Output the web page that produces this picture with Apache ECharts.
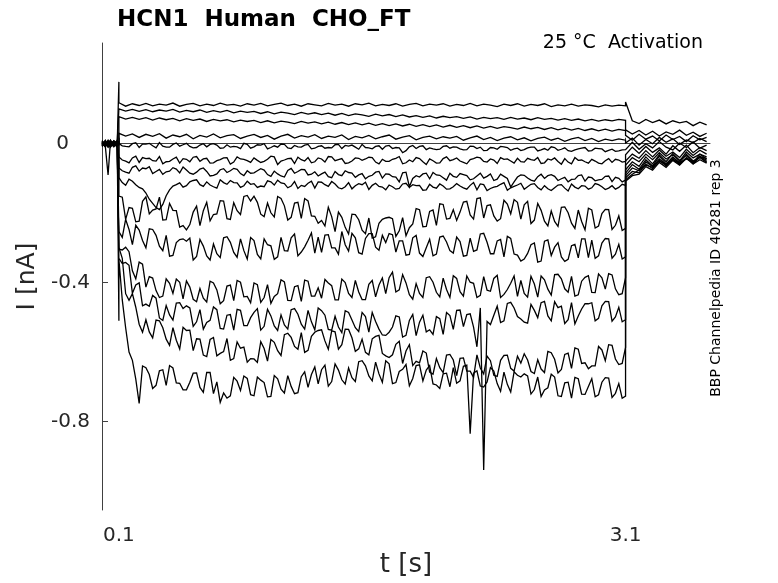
<!DOCTYPE html>
<html>
<head>
<meta charset="utf-8">
<script src="https://cdn.jsdelivr.net/npm/echarts@6/dist/echarts.min.js"></script>
<style>
  html, body { margin: 0; padding: 0; background: #fff; }
  #chart { width: 778px; height: 583px; }
</style>
</head>
<body>
<div id="chart"></div>
<script>
// time bases (s)
var tPre = [0, 0.02, 0.036, 0.05, 0.07, 0.09, 0.1];
var tStep = [0.1,0.14,0.18,0.22,0.26,0.3,0.34,0.38,0.42,0.46,
  0.5,0.54,0.58,0.62,0.66,0.7,0.74,0.78,0.82,0.86,
  0.9,0.94,0.98,1.02,1.06,1.1,1.14,1.18,1.22,1.26,
  1.3,1.34,1.38,1.42,1.46,1.5,1.54,1.58,1.62,1.66,
  1.7,1.74,1.78,1.82,1.86,1.9,1.94,1.98,2.02,2.06,
  2.1,2.14,2.18,2.22,2.26,2.3,2.34,2.38,2.42,2.46,
  2.5,2.54,2.58,2.62,2.66,2.7,2.74,2.78,2.82,2.86,
  2.9,2.94,2.98,3.02,3.06,3.1];
// in-between samples, used by the noisier sweeps
var tMid = [0.12,0.16,0.2,0.24,0.28,0.32,0.36,0.4,0.44,0.48,
  0.52,0.56,0.6,0.64,0.68,0.72,0.76,0.8,0.84,0.88,
  0.92,0.96,1,1.04,1.08,1.12,1.16,1.2,1.24,1.28,
  1.32,1.36,1.4,1.44,1.48,1.52,1.56,1.6,1.64,1.68,
  1.72,1.76,1.8,1.84,1.88,1.92,1.96,2,2.04,2.08,
  2.12,2.16,2.2,2.24,2.28,2.32,2.36,2.4,2.44,2.48,
  2.52,2.56,2.6,2.64,2.68,2.72,2.76,2.8,2.84,2.88,
  2.92,2.96,3,3.04,3.08];
var tTail = [3.1,3.14,3.18,3.22,3.26,3.3,3.34,3.38,3.42,3.46,3.5,3.54,3.58];

// tick labels
var xTicks = [0.1, 3.1];
var yTicks = [-0.8, -0.4, 0];

// currents (nA), holding part
var pre01 = [0.004,-0.006,0.008,-0.003,0.006,-0.004,0.178];
var pre02 = [-0.005,0.007,-0.002,0.009,-0.006,0.003,0.002];
var pre03 = [0.006,-0.004,0.010,-0.007,0.002,-0.008,0.001];
var pre04 = [-0.008,0.003,-0.010,0.005,-0.003,0.008,0.000];
var pre05 = [0.002,-0.009,-0.090,0.006,-0.005,0.004,0.003];
var pre06 = [-0.003,0.010,-0.006,-0.009,0.007,-0.002,-0.001];
var pre07 = [0.009,-0.002,0.005,-0.010,0.003,0.006,0.002];
var pre08 = [-0.007,0.004,-0.009,0.002,-0.008,0.010,-0.002];
var pre09 = [0.005,-0.008,0.003,0.008,-0.004,-0.007,0.001];
var pre10 = [-0.002,0.006,-0.005,-0.006,0.009,0.002,-0.003];
var pre11 = [0.008,-0.005,0.007,0.001,-0.009,0.005,0.000];
var pre12 = [-0.006,0.002,-0.008,0.007,0.004,-0.006,-0.002];
var pre13 = [0.003,-0.010,0.004,-0.004,0.008,-0.003,0.001];
var pre14 = [-0.004,0.008,-0.003,0.010,-0.007,0.007,-0.510];

// currents during the test pulse
var step01 = [0.118,0.108,0.115,0.110,0.116,0.109,0.114,0.111,0.117,0.108,
  0.113,0.116,0.109,0.114,0.110,0.117,0.111,0.113,0.108,0.115,
  0.111,0.116,0.109,0.113,0.117,0.110,0.114,0.108,0.115,0.112,
  0.109,0.116,0.111,0.114,0.108,0.115,0.112,0.117,0.109,0.113,
  0.110,0.115,0.108,0.113,0.116,0.109,0.114,0.111,0.115,0.108,
  0.113,0.110,0.116,0.109,0.114,0.111,0.107,0.114,0.110,0.115,
  0.108,0.113,0.110,0.115,0.107,0.112,0.109,0.114,0.108,0.112,
  0.110,0.106,0.112,0.108,0.111,0.109];
var step02 = [0.100,0.094,0.099,0.093,0.098,0.092,0.097,0.094,0.099,0.091,
  0.096,0.092,0.097,0.090,0.095,0.091,0.096,0.089,0.094,0.090,
  0.093,0.087,0.092,0.086,0.091,0.088,0.084,0.090,0.085,0.089,
  0.084,0.088,0.082,0.087,0.081,0.086,0.083,0.079,0.085,0.080,
  0.084,0.078,0.083,0.077,0.081,0.076,0.080,0.074,0.079,0.075,
  0.078,0.073,0.077,0.071,0.076,0.072,0.075,0.070,0.076,0.071,
  0.074,0.069,0.075,0.070,0.073,0.068,0.072,0.067,0.071,0.066,
  0.070,0.065,0.069,0.066,0.070,0.067];
var step03 = [0.078,0.071,0.076,0.070,0.075,0.068,0.074,0.069,0.073,0.066,
  0.072,0.067,0.071,0.064,0.070,0.066,0.069,0.063,0.068,0.064,
  0.067,0.061,0.066,0.060,0.065,0.062,0.058,0.064,0.059,0.063,
  0.057,0.062,0.056,0.061,0.055,0.060,0.054,0.059,0.053,0.058,
  0.052,0.057,0.051,0.056,0.050,0.055,0.049,0.054,0.048,0.053,
  0.047,0.052,0.046,0.051,0.045,0.050,0.044,0.049,0.046,0.042,
  0.048,0.043,0.047,0.041,0.046,0.040,0.045,0.039,0.044,0.038,
  0.043,0.037,0.042,0.036,0.041,0.038];
var step04 = [0.030,0.022,0.028,0.018,0.027,0.021,0.029,0.016,0.025,0.020,
  0.027,0.014,0.024,0.019,0.028,0.017,0.023,0.026,0.015,0.022,
  0.027,0.018,0.024,0.013,0.022,0.027,0.016,0.023,0.019,0.026,
  0.015,0.022,0.018,0.025,0.012,0.021,0.017,0.024,0.014,0.020,
  0.025,0.013,0.019,0.023,0.011,0.018,0.022,0.014,0.020,0.016,
  0.021,0.010,0.017,0.022,0.012,0.018,0.009,0.016,0.020,0.011,
  0.017,0.008,0.015,0.019,0.010,0.016,0.007,0.014,0.018,0.009,
  0.015,0.006,0.013,0.009,0.014,0.010];
var step05 = [0.002,-0.008,0.000,-0.011,-0.001,-0.006,0.003,-0.010,-0.002,-0.007,
  0.001,-0.012,-0.004,-0.009,0.000,-0.013,-0.003,-0.008,-0.014,-0.002,
  -0.009,-0.004,-0.015,-0.006,-0.001,-0.012,-0.005,-0.010,-0.002,-0.013,
  -0.006,-0.011,-0.003,-0.014,-0.007,-0.010,-0.002,-0.012,-0.008,-0.016,
  -0.005,-0.011,-0.026,-0.009,-0.014,-0.006,-0.012,-0.017,-0.008,-0.013,
  -0.010,-0.018,-0.007,-0.014,-0.020,-0.011,-0.016,-0.009,-0.019,-0.013,
  -0.017,-0.010,-0.021,-0.014,-0.009,-0.019,-0.012,-0.022,-0.015,-0.011,
  -0.020,-0.014,-0.023,-0.016,-0.021,-0.017];
var step06 = [-0.038,-0.050,-0.041,-0.054,-0.043,-0.049,-0.037,-0.052,-0.044,-0.056,
  -0.045,-0.039,-0.051,-0.042,-0.055,-0.046,-0.040,-0.053,-0.044,-0.049,
  -0.041,-0.054,-0.045,-0.038,-0.050,-0.043,-0.057,-0.046,-0.040,-0.052,
  -0.044,-0.037,-0.049,-0.043,-0.055,-0.041,-0.048,-0.039,-0.053,-0.045,
  -0.051,-0.042,-0.058,-0.047,-0.040,-0.052,-0.044,-0.056,-0.043,-0.049,
  -0.041,-0.054,-0.046,-0.039,-0.051,-0.044,-0.057,-0.045,-0.050,-0.042,
  -0.053,-0.046,-0.040,-0.055,-0.047,-0.051,-0.043,-0.058,-0.048,-0.052,
  -0.045,-0.056,-0.049,-0.054,-0.047,-0.051];
var step07 = [-0.070,-0.082,-0.068,-0.079,-0.072,-0.086,-0.074,-0.081,-0.069,-0.084,
  -0.076,-0.088,-0.073,-0.080,-0.091,-0.075,-0.083,-0.071,-0.086,-0.078,
  -0.084,-0.072,-0.089,-0.079,-0.093,-0.077,-0.085,-0.074,-0.090,-0.081,
  -0.087,-0.095,-0.080,-0.092,-0.083,-0.097,-0.086,-0.094,-0.082,-0.099,
  -0.088,-0.096,-0.084,-0.124,-0.092,-0.087,-0.101,-0.090,-0.098,-0.085,
  -0.097,-0.089,-0.104,-0.093,-0.099,-0.087,-0.102,-0.094,-0.125,-0.096,
  -0.091,-0.105,-0.095,-0.100,-0.089,-0.106,-0.097,-0.103,-0.092,-0.108,
  -0.098,-0.104,-0.094,-0.109,-0.100,-0.105];
var step08 = [-0.098,-0.120,-0.108,-0.126,-0.142,-0.172,-0.190,-0.150,-0.122,-0.113,
  -0.121,-0.106,-0.118,-0.110,-0.124,-0.104,-0.117,-0.112,-0.126,-0.108,
  -0.115,-0.122,-0.107,-0.119,-0.113,-0.127,-0.109,-0.120,-0.114,-0.128,
  -0.111,-0.123,-0.116,-0.130,-0.112,-0.121,-0.118,-0.132,-0.114,-0.125,
  -0.119,-0.131,-0.116,-0.126,-0.121,-0.134,-0.117,-0.128,-0.122,-0.130,
  -0.115,-0.127,-0.120,-0.133,-0.118,-0.129,-0.123,-0.112,-0.127,-0.119,
  -0.131,-0.117,-0.126,-0.121,-0.135,-0.119,-0.128,-0.116,-0.130,-0.122,
  -0.127,-0.118,-0.132,-0.121,-0.126,-0.120];
var step09 = [-0.151,-0.218,-0.186,-0.223,-0.153,-0.191,-0.154,-0.219,-0.192,-0.240,
  -0.248,-0.197,-0.236,-0.169,-0.204,-0.164,-0.216,-0.170,-0.204,-0.149,
  -0.151,-0.203,-0.171,-0.211,-0.158,-0.220,-0.171,-0.215,-0.165,-0.209,
  -0.221,-0.183,-0.253,-0.212,-0.260,-0.204,-0.249,-0.214,-0.268,-0.218,
  -0.212,-0.267,-0.213,-0.242,-0.187,-0.239,-0.195,-0.235,-0.175,-0.215,
  -0.221,-0.168,-0.205,-0.158,-0.214,-0.176,-0.223,-0.163,-0.202,-0.169,
  -0.176,-0.230,-0.172,-0.223,-0.194,-0.238,-0.182,-0.229,-0.191,-0.248,
  -0.191,-0.237,-0.189,-0.247,-0.208,-0.244];
var step10 = [-0.253,-0.218,-0.291,-0.249,-0.300,-0.247,-0.295,-0.264,-0.322,-0.276,
  -0.281,-0.335,-0.276,-0.323,-0.289,-0.328,-0.268,-0.313,-0.274,-0.332,
  -0.279,-0.332,-0.291,-0.333,-0.270,-0.309,-0.260,-0.312,-0.278,-0.315,
  -0.313,-0.262,-0.300,-0.253,-0.309,-0.271,-0.318,-0.259,-0.298,-0.264,
  -0.259,-0.312,-0.280,-0.319,-0.264,-0.325,-0.275,-0.318,-0.266,-0.308,
  -0.269,-0.324,-0.272,-0.306,-0.258,-0.317,-0.280,-0.326,-0.273,-0.321,
  -0.332,-0.291,-0.341,-0.281,-0.322,-0.285,-0.339,-0.294,-0.329,-0.274,
  -0.278,-0.323,-0.273,-0.330,-0.290,-0.326];
var step11 = [-0.304,-0.298,-0.366,-0.341,-0.413,-0.387,-0.443,-0.389,-0.431,-0.399,
  -0.395,-0.448,-0.417,-0.456,-0.401,-0.461,-0.410,-0.452,-0.399,-0.440,
  -0.401,-0.457,-0.406,-0.440,-0.392,-0.451,-0.412,-0.454,-0.396,-0.439,
  -0.445,-0.401,-0.450,-0.390,-0.431,-0.394,-0.449,-0.405,-0.441,-0.387,
  -0.386,-0.427,-0.377,-0.435,-0.403,-0.443,-0.383,-0.428,-0.387,-0.443,
  -0.388,-0.439,-0.399,-0.443,-0.383,-0.425,-0.379,-0.434,-0.402,-0.440,
  -0.431,-0.382,-0.442,-0.392,-0.436,-0.376,-0.418,-0.382,-0.435,-0.385,
  -0.428,-0.375,-0.419,-0.378,-0.435,-0.386];
var step12 = [-0.330,-0.342,-0.431,-0.401,-0.462,-0.437,-0.502,-0.466,-0.508,-0.458,
  -0.467,-0.526,-0.478,-0.515,-0.470,-0.532,-0.494,-0.537,-0.480,-0.524,
  -0.486,-0.537,-0.477,-0.525,-0.493,-0.534,-0.475,-0.520,-0.480,-0.536,
  -0.481,-0.535,-0.497,-0.544,-0.486,-0.530,-0.486,-0.543,-0.512,-0.551,
  -0.543,-0.496,-0.557,-0.509,-0.553,-0.494,-0.536,-0.498,-0.549,-0.495,
  -0.480,-0.527,-0.490,-0.585,-0.940,-0.521,-0.468,-0.510,-0.457,-0.498,
  -0.514,-0.463,-0.501,-0.454,-0.510,-0.472,-0.518,-0.458,-0.496,-0.461,
  -0.458,-0.503,-0.454,-0.511,-0.471,-0.507];
var step13 = [-0.299,-0.432,-0.432,-0.520,-0.507,-0.559,-0.510,-0.563,-0.530,-0.591,
  -0.538,-0.596,-0.563,-0.613,-0.558,-0.604,-0.561,-0.619,-0.589,-0.629,
  -0.620,-0.570,-0.626,-0.572,-0.610,-0.546,-0.584,-0.544,-0.595,-0.543,
  -0.536,-0.592,-0.542,-0.579,-0.535,-0.598,-0.563,-0.608,-0.555,-0.604,
  -0.616,-0.578,-0.633,-0.579,-0.627,-0.597,-0.658,-0.619,-0.659,-0.607,
  -0.668,-0.617,-0.655,-0.608,-0.663,-0.625,-0.670,-0.610,-0.647,-0.612,
  -0.605,-0.656,-0.622,-0.659,-0.602,-0.660,-0.607,-0.647,-0.592,-0.631,
  -0.640,-0.584,-0.625,-0.581,-0.636,-0.587];
var step14 = [-0.333,-0.530,-0.624,-0.748,-0.645,-0.705,-0.654,-0.696,-0.646,-0.690,
  -0.709,-0.661,-0.702,-0.659,-0.720,-0.745,-0.733,-0.673,-0.711,-0.676,
  -0.726,-0.681,-0.729,-0.668,-0.707,-0.668,-0.720,-0.671,-0.702,-0.643,
  -0.651,-0.698,-0.634,-0.680,-0.646,-0.685,-0.625,-0.669,-0.629,-0.687,
  -0.634,-0.688,-0.650,-0.697,-0.639,-0.683,-0.639,-0.695,-0.663,-0.700,
  -0.690,-0.641,-0.835,-0.654,-0.701,-0.645,-0.691,-0.658,-0.715,-0.667,
  -0.663,-0.721,-0.672,-0.709,-0.664,-0.726,-0.689,-0.733,-0.677,-0.722,
  -0.677,-0.723,-0.674,-0.731,-0.691,-0.727];

// in-between samples for sweeps 5..14
var mid05 = [-0.006,-0.009,0.003,-0.001,0.001,-0.012,-0.007,-0.010,0.002,-0.003,
  -0.008,-0.011,0.000,-0.002,-0.004,-0.012,-0.010,-0.009,0.001,-0.013,
  -0.003,0.000,-0.011,-0.010,-0.002,-0.014,-0.009,-0.004,-0.015,-0.008,
  -0.013,-0.012,-0.002,-0.005,-0.004,-0.016,-0.011,-0.015,-0.006,-0.007,
  -0.014,-0.012,-0.020,-0.005,-0.008,-0.017,-0.015,-0.016,-0.006,-0.009,
  -0.015,-0.017,-0.008,-0.010,-0.019,-0.012,-0.008,-0.011,-0.015,-0.020,
  -0.012,-0.010,-0.018,-0.019,-0.011,-0.016,-0.020,-0.018,-0.013,-0.021,
  -0.013,-0.015,-0.019,-0.022,-0.018];
var mid06 = [-0.047,-0.055,-0.036,-0.040,-0.042,-0.050,-0.058,-0.051,-0.039,-0.043,
  -0.052,-0.037,-0.044,-0.056,-0.049,-0.041,-0.059,-0.038,-0.045,-0.054,
  -0.048,-0.051,-0.036,-0.060,-0.047,-0.042,-0.039,-0.050,-0.055,-0.041,
  -0.053,-0.038,-0.046,-0.057,-0.050,-0.042,-0.044,-0.040,-0.058,-0.051,
  -0.045,-0.037,-0.055,-0.052,-0.043,-0.060,-0.049,-0.055,-0.038,-0.046,
  -0.050,-0.058,-0.043,-0.041,-0.053,-0.047,-0.040,-0.044,-0.056,-0.052,
  -0.042,-0.048,-0.057,-0.044,-0.041,-0.059,-0.053,-0.040,-0.047,-0.056,
  -0.050,-0.058,-0.043,-0.045,-0.053];
var mid07 = [-0.078,-0.085,-0.064,-0.070,-0.066,-0.080,-0.088,-0.079,-0.073,-0.067,
  -0.085,-0.082,-0.070,-0.093,-0.087,-0.072,-0.078,-0.074,-0.092,-0.085,
  -0.078,-0.076,-0.094,-0.087,-0.096,-0.071,-0.080,-0.075,-0.088,-0.093,
  -0.082,-0.098,-0.089,-0.078,-0.085,-0.090,-0.101,-0.091,-0.080,-0.087,
  -0.095,-0.110,-0.082,-0.100,-0.096,-0.085,-0.083,-0.091,-0.105,-0.094,
  -0.086,-0.092,-0.101,-0.085,-0.094,-0.106,-0.088,-0.100,-0.110,-0.090,
  -0.099,-0.108,-0.088,-0.092,-0.094,-0.101,-0.110,-0.102,-0.090,-0.096,
  -0.107,-0.103,-0.093,-0.097,-0.110];
var mid08 = [-0.112,-0.102,-0.118,-0.130,-0.160,-0.184,-0.175,-0.133,-0.118,-0.125,
  -0.110,-0.104,-0.123,-0.119,-0.128,-0.112,-0.106,-0.113,-0.121,-0.117,
  -0.126,-0.124,-0.110,-0.105,-0.115,-0.122,-0.129,-0.123,-0.108,-0.110,
  -0.118,-0.109,-0.127,-0.124,-0.130,-0.115,-0.111,-0.120,-0.123,-0.133,
  -0.124,-0.129,-0.114,-0.118,-0.120,-0.133,-0.125,-0.116,-0.131,-0.124,
  -0.122,-0.131,-0.112,-0.116,-0.135,-0.125,-0.117,-0.134,-0.123,-0.114,
  -0.124,-0.115,-0.133,-0.130,-0.127,-0.118,-0.136,-0.125,-0.121,-0.131,
  -0.115,-0.124,-0.128,-0.131,-0.117];
var mid09 = [-0.154,-0.184,-0.225,-0.166,-0.202,-0.188,-0.220,-0.172,-0.193,-0.236,
  -0.233,-0.180,-0.193,-0.222,-0.202,-0.165,-0.218,-0.193,-0.152,-0.165,
  -0.169,-0.210,-0.199,-0.152,-0.179,-0.212,-0.169,-0.158,-0.208,-0.229,
  -0.237,-0.210,-0.197,-0.241,-0.203,-0.219,-0.259,-0.272,-0.229,-0.214,
  -0.216,-0.251,-0.265,-0.231,-0.190,-0.238,-0.191,-0.173,-0.217,-0.190,
  -0.197,-0.166,-0.217,-0.156,-0.178,-0.208,-0.216,-0.174,-0.161,-0.217,
  -0.166,-0.220,-0.192,-0.237,-0.224,-0.183,-0.199,-0.244,-0.224,-0.186,
  -0.243,-0.201,-0.190,-0.235,-0.250];
var mid10 = [-0.270,-0.247,-0.235,-0.279,-0.245,-0.264,-0.308,-0.324,-0.285,-0.274,
  -0.272,-0.325,-0.295,-0.335,-0.317,-0.271,-0.284,-0.327,-0.308,-0.270,
  -0.319,-0.274,-0.294,-0.326,-0.308,-0.271,-0.323,-0.297,-0.257,-0.269,
  -0.263,-0.300,-0.318,-0.291,-0.258,-0.314,-0.273,-0.259,-0.307,-0.285,
  -0.262,-0.280,-0.321,-0.271,-0.315,-0.300,-0.323,-0.269,-0.283,-0.315,
  -0.282,-0.322,-0.310,-0.260,-0.284,-0.317,-0.276,-0.267,-0.318,-0.338,
  -0.316,-0.286,-0.338,-0.277,-0.298,-0.326,-0.333,-0.290,-0.274,-0.328,
  -0.330,-0.286,-0.274,-0.318,-0.332];
var mid11 = [-0.306,-0.311,-0.389,-0.347,-0.383,-0.423,-0.439,-0.402,-0.390,-0.447,
  -0.413,-0.455,-0.445,-0.396,-0.421,-0.452,-0.407,-0.394,-0.441,-0.458,
  -0.406,-0.443,-0.460,-0.432,-0.398,-0.452,-0.409,-0.393,-0.439,-0.415,
  -0.391,-0.409,-0.450,-0.400,-0.443,-0.427,-0.449,-0.394,-0.407,-0.432,
  -0.370,-0.421,-0.401,-0.448,-0.431,-0.386,-0.399,-0.441,-0.420,-0.380,
  -0.426,-0.381,-0.402,-0.437,-0.422,-0.388,-0.443,-0.420,-0.381,-0.394,
  -0.442,-0.404,-0.381,-0.419,-0.377,-0.389,-0.428,-0.439,-0.396,-0.380,
  -0.429,-0.386,-0.374,-0.418,-0.432];
var mid12 = [-0.345,-0.350,-0.407,-0.467,-0.468,-0.445,-0.509,-0.493,-0.459,-0.475,
  -0.473,-0.513,-0.534,-0.509,-0.478,-0.534,-0.492,-0.477,-0.524,-0.501,
  -0.475,-0.526,-0.496,-0.538,-0.522,-0.478,-0.491,-0.534,-0.513,-0.473,
  -0.494,-0.537,-0.528,-0.481,-0.508,-0.541,-0.498,-0.486,-0.534,-0.552,
  -0.528,-0.499,-0.552,-0.492,-0.514,-0.542,-0.549,-0.504,-0.486,-0.535,
  -0.479,-0.492,-0.528,-0.473,-0.512,-0.494,-0.515,-0.460,-0.473,-0.505,
  -0.517,-0.480,-0.458,-0.496,-0.455,-0.468,-0.507,-0.519,-0.476,-0.461,
  -0.510,-0.467,-0.455,-0.499,-0.513];
var mid13 = [-0.330,-0.451,-0.471,-0.543,-0.542,-0.508,-0.530,-0.581,-0.566,-0.529,
  -0.537,-0.562,-0.609,-0.564,-0.611,-0.599,-0.624,-0.571,-0.586,-0.619,
  -0.630,-0.590,-0.564,-0.596,-0.550,-0.558,-0.592,-0.601,-0.555,-0.538,
  -0.568,-0.539,-0.592,-0.534,-0.559,-0.591,-0.601,-0.562,-0.552,-0.611,
  -0.608,-0.569,-0.597,-0.639,-0.631,-0.603,-0.664,-0.645,-0.609,-0.623,
  -0.618,-0.655,-0.673,-0.646,-0.612,-0.667,-0.624,-0.609,-0.655,-0.632,
  -0.623,-0.662,-0.649,-0.598,-0.621,-0.650,-0.603,-0.588,-0.633,-0.648,
  -0.640,-0.594,-0.579,-0.620,-0.633];
var mid14 = [-0.450,-0.600,-0.678,-0.640,-0.665,-0.696,-0.651,-0.639,-0.689,-0.709,
  -0.687,-0.660,-0.716,-0.659,-0.686,-0.718,-0.726,-0.684,-0.669,-0.723,
  -0.672,-0.688,-0.728,-0.677,-0.718,-0.699,-0.717,-0.657,-0.665,-0.692,
  -0.638,-0.685,-0.652,-0.692,-0.674,-0.628,-0.640,-0.683,-0.663,-0.625,
  -0.691,-0.656,-0.636,-0.676,-0.637,-0.652,-0.692,-0.705,-0.661,-0.645,
  -0.683,-0.638,-0.661,-0.698,-0.686,-0.655,-0.713,-0.693,-0.657,-0.672,
  -0.669,-0.708,-0.728,-0.703,-0.672,-0.728,-0.687,-0.673,-0.721,-0.699,
  -0.729,-0.687,-0.675,-0.719,-0.733];

// tail currents after the pulse
var tail01 = [0.120,0.066,0.058,0.070,0.061,0.068,0.057,0.066,0.060,0.064,0.052,0.062,0.054];
var tail02 = [0.040,0.028,0.038,0.025,0.036,0.022,0.034,0.027,0.039,0.024,0.033,0.021,0.030];
var tail03 = [0.024,0.010,0.027,0.013,0.022,0.008,0.025,0.012,0.021,0.006,0.023,0.011,0.018];
var tail04 = [0.002,0.016,-0.004,0.012,0.000,0.018,0.004,0.014,-0.002,0.011,0.003,0.015,0.006];
var tail05 = [-0.014,0.004,-0.016,0.000,-0.012,0.006,-0.010,-0.018,0.002,-0.011,0.005,-0.013,-0.004];
var tail06 = [-0.032,-0.010,-0.028,-0.008,-0.025,-0.012,-0.030,-0.006,-0.022,-0.004,-0.026,-0.011,-0.020];
var tail07 = [-0.050,-0.030,-0.042,-0.020,-0.038,-0.018,-0.036,-0.024,-0.040,-0.016,-0.034,-0.019,-0.030];
var tail08 = [-0.062,-0.040,-0.052,-0.030,-0.046,-0.026,-0.044,-0.032,-0.050,-0.024,-0.041,-0.030,-0.038];
var tail09 = [-0.075,-0.052,-0.065,-0.038,-0.058,-0.032,-0.052,-0.028,-0.048,-0.034,-0.055,-0.030,-0.044];
var tail10 = [-0.085,-0.060,-0.074,-0.046,-0.064,-0.036,-0.058,-0.040,-0.054,-0.030,-0.050,-0.038,-0.042];
var tail11 = [-0.092,-0.070,-0.078,-0.052,-0.066,-0.044,-0.060,-0.038,-0.057,-0.042,-0.053,-0.036,-0.048];
var tail12 = [-0.098,-0.080,-0.084,-0.058,-0.072,-0.048,-0.064,-0.044,-0.060,-0.040,-0.058,-0.038,-0.052];
var tail13 = [-0.104,-0.088,-0.076,-0.062,-0.068,-0.050,-0.060,-0.046,-0.055,-0.044,-0.052,-0.040,-0.054];
var tail14 = [-0.108,-0.092,-0.088,-0.066,-0.076,-0.054,-0.068,-0.048,-0.062,-0.042,-0.058,-0.046,-0.056];

var pres = [pre01,pre02,pre03,pre04,pre05,pre06,pre07,pre08,pre09,pre10,pre11,pre12,pre13,pre14];
var steps = [step01,step02,step03,step04,step05,step06,step07,step08,step09,step10,step11,step12,step13,step14];
var mids = [null,null,null,null,mid05,mid06,mid07,mid08,mid09,mid10,mid11,mid12,mid13,mid14];
var tails = [tail01,tail02,tail03,tail04,tail05,tail06,tail07,tail08,tail09,tail10,tail11,tail12,tail13,tail14];

function pairs(ts, vs) {
  var out = [];
  if (!vs) return out;
  for (var i = 0; i < ts.length; i++) out.push([ts[i], vs[i]]);
  return out;
}

var series = [];
for (var k = 0; k < steps.length; k++) {
  var body = pairs(tStep, steps[k]).concat(pairs(tMid, mids[k]));
  body.sort(function (a, b) { return a[0] - b[0]; });   // stable, keeps the 0.1 / 3.1 jumps in order
  series.push({
    type: 'line',
    data: pairs(tPre, pres[k]).concat(body, pairs(tTail, tails[k])),
    showSymbol: false,
    silent: true,
    lineStyle: { color: '#000', width: 1.3, join: 'miter', miterLimit: 4 },
    animation: false
  });
}

var axisCol = '#404040';
var labelFont = { fontFamily: 'DejaVu Sans', fontSize: 20, color: '#262626' };
var chart = echarts.init(document.getElementById('chart'));
chart.setOption({
  backgroundColor: '#fff',
  title: [{
    text: 'HCN1  Human  CHO_FT',
    left: 112, top: 4,
    textStyle: { fontFamily: 'DejaVu Sans', fontWeight: 'bold', fontSize: 23, color: '#000' }
  }, {
    text: '25 °C  Activation',
    right: 70, top: 29,
    textStyle: { fontFamily: 'DejaVu Sans', fontWeight: 'normal', fontSize: 19, color: '#000' }
  }],
  graphic: [{
    type: 'text',
    x: 716, y: 278,
    rotation: Math.PI / 2,
    style: {
      text: 'BBP Channelpedia ID 40281 rep 3',
      font: '14px "DejaVu Sans"',
      fill: '#000',
      align: 'center',
      verticalAlign: 'middle'
    }
  }],
  grid: { left: 102, right: 68, top: 43, bottom: 71 },
  xAxis: {
    type: 'value', min: 0, max: 3.6,
    name: 't [s]', nameLocation: 'middle', nameGap: 42,
    nameTextStyle: { fontFamily: 'DejaVu Sans', fontSize: 26, color: '#262626' },
    axisLine: { lineStyle: { color: axisCol } },
    axisTick: { inside: true, length: 6, customValues: xTicks, lineStyle: { color: axisCol } },
    axisLabel: Object.assign({ customValues: xTicks, margin: 16 }, labelFont),
    splitLine: { show: false }
  },
  yAxis: {
    type: 'value', min: -1.055, max: 0.29,
    name: 'I [nA]', nameLocation: 'middle', nameGap: 57,
    nameTextStyle: { fontFamily: 'DejaVu Sans', fontSize: 25, color: '#262626' },
    axisLine: { show: true, lineStyle: { color: axisCol } },
    axisTick: { show: true, inside: true, length: 6, customValues: yTicks, lineStyle: { color: axisCol } },
    axisLabel: Object.assign({
      customValues: yTicks, margin: 12,
      // the zero label sits further left in the original
      formatter: function (v) { return v === 0 ? '{z|0}' : String(v); },
      rich: { z: Object.assign({ padding: [0, 21, 0, 0] }, labelFont) }
    }, labelFont),
    splitLine: { show: false }
  },
  series: series
});
</script>
</body>
</html>
